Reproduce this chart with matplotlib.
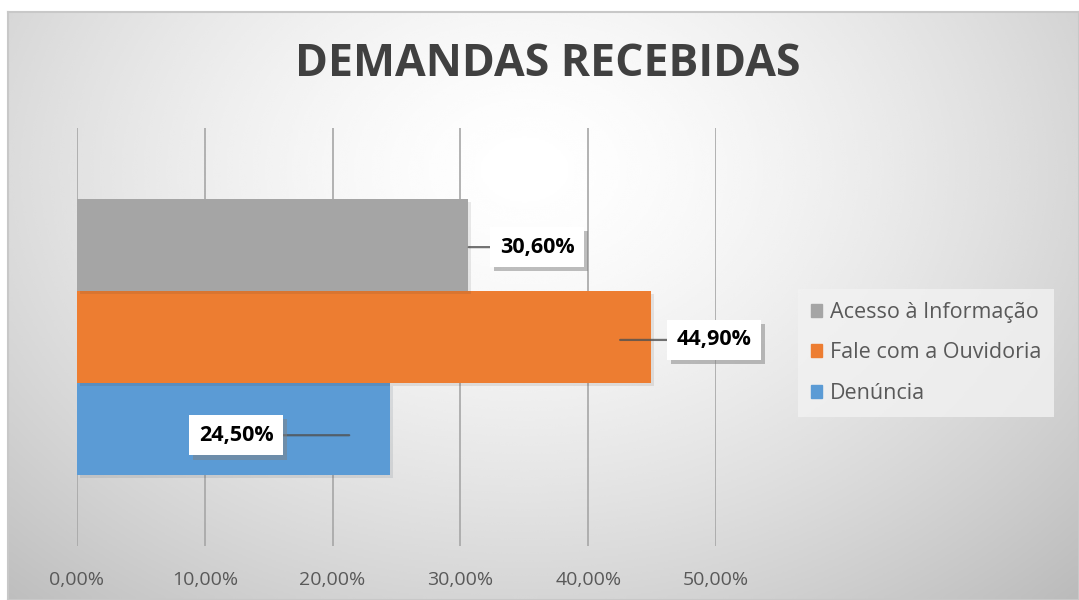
import numpy as np
import matplotlib
matplotlib.use('Agg')
import matplotlib.pyplot as plt
import matplotlib.patheffects as pe
from matplotlib.patches import Rectangle

# data
series = ['Denúncia', 'Fale com a Ouvidoria', 'Acesso à Informação']
values = [0.245, 0.449, 0.306]
labels = ['24,50%', '44,90%', '30,60%']
colors = ['#5b9bd5', '#ed7d31', '#a5a5a5']
ticks = [0.0, 0.1, 0.2, 0.3, 0.4, 0.5]
tick_labels = ['0,00%', '10,00%', '20,00%', '30,00%', '40,00%', '50,00%']
# label box centres on the value axis
label_x = [0.1245, 0.4985, 0.36]

plt.rcParams['font.family'] = ['Open Sans', 'DejaVu Sans']

W, H = 1079, 600
fig = plt.figure(figsize=(W / 100, H / 100), dpi=100)
fig.patch.set_facecolor('white')

# radial gradient background of the chart area
bg = fig.add_axes([8 / W, 0, 1 - 8 / W, 1 - 12 / H], zorder=-10)
yy, xx = np.mgrid[0:300, 0:540]
cx, cy = 260, 80
d = np.sqrt(((xx - cx) / 330.0) ** 2 + ((yy - cy) / 250.0) ** 2)
g = 1.0 - 0.2 * np.clip(d, 0, 1.3) ** 1.5
bg.imshow(g, cmap='gray', vmin=0, vmax=1, aspect='auto', interpolation='bicubic')
bg.set_xticks([])
bg.set_yticks([])
for s in bg.spines.values():
    s.set_color('#c8c8c8')
    s.set_linewidth(1.5)

ax = fig.add_axes([77 / W, 54 / H, 639 / W, 418 / H])
ax.patch.set_alpha(0)
h = 0.22
offs = [-h, 0, h]
for v, c, o in zip(values, colors, offs):
    ax.barh(o, v, height=h, color=c, zorder=3,
            path_effects=[pe.SimplePatchShadow(offset=(2, -2), alpha=0.1), pe.Normal()])

ax.set_xlim(0, 0.5)
ax.set_ylim(-0.5, 0.5)
ax.set_xticks(ticks)
ax.set_xticklabels(tick_labels, color='#595959', fontsize=14)
ax.tick_params(axis='x', length=0, pad=18)
ax.set_yticks([])
ax.grid(axis='x', color='#a6a6a6', linewidth=1.2, zorder=0)
ax.set_axisbelow(True)
for s in ax.spines.values():
    s.set_visible(False)

# data labels with leader lines
lab_dy = [-0.015, -0.007, -0.005]
lead_x = [0.213, 0.425, 0.3065]
for v, lab, lx, o, dy, sx in zip(values, labels, label_x, offs, lab_dy, lead_x):
    ly = o + dy
    t = ax.annotate(lab, xy=(sx, ly), xytext=(lx, ly),
                    ha='center', va='center', fontsize=15.5, fontweight='bold',
                    color='black', zorder=6, annotation_clip=False,
                    bbox=dict(boxstyle='square,pad=0.45', fc='white', ec='none'),
                    arrowprops=dict(arrowstyle='-', color='#505050', lw=1.6,
                                    shrinkA=0, shrinkB=0, alpha=0.8))
    t.get_bbox_patch().set_path_effects(
        [pe.SimplePatchShadow(offset=(3, -3), shadow_rgbFace='#808080', alpha=0.5), pe.Normal()])

fig.text(548 / W, 1 - 65 / H, 'DEMANDAS RECEBIDAS', ha='center', va='center',
         fontsize=32, fontweight='bold', color='#404040')

# legend
handles = [Rectangle((0, 0), 1, 1, color=c) for c in colors[::-1]]
leg = fig.legend(handles, series[::-1], loc='center', bbox_to_anchor=(926 / W, 1 - 353 / H),
                 frameon=True, fontsize=15.5, handlelength=0.55, handleheight=0.55,
                 handletextpad=0.35, labelspacing=0.9, borderpad=0.6,
                 fancybox=False)
leg.get_frame().set_facecolor('#f2f2f2')
leg.get_frame().set_edgecolor('none')
leg.get_frame().set_alpha(0.8)
for t in leg.get_texts():
    t.set_color('#595959')

fig.savefig('out.png', dpi=100)
